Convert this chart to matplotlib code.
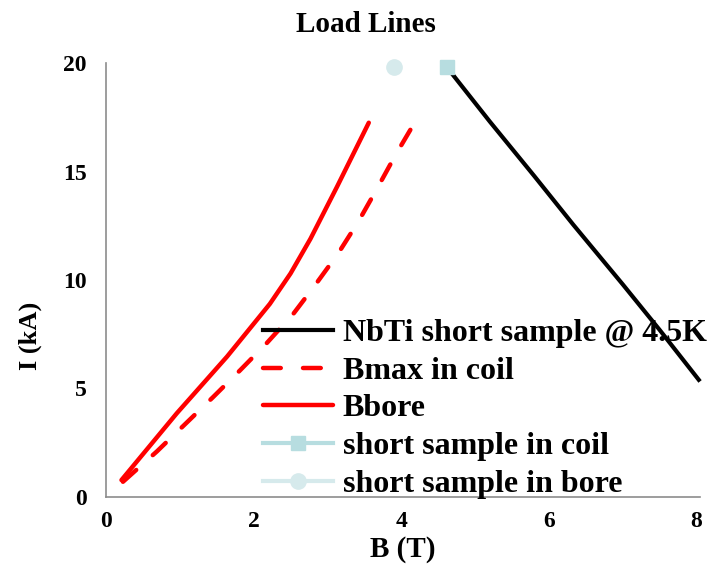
import matplotlib.pyplot as plt

plt.rcParams['font.family'] = ['Liberation Serif', 'DejaVu Serif']
plt.rcParams['font.weight'] = 'bold'

# NbTi short sample curve @ 4.5K
b_ss = [4.62, 5.2, 5.8, 6.33, 7.0, 7.5, 8.03]
i_ss = [19.8, 17.3, 14.8, 12.55, 9.8, 7.7, 5.4]

# load line, peak field in coil
b_max = [0.23, 0.69, 1.07, 1.45, 1.82, 2.18, 2.54, 2.83, 3.15, 3.42, 3.67,
         3.92, 4.18]
i_max = [0.7, 2.1, 3.35, 4.6, 5.85, 7.1, 8.45, 9.75, 11.25, 12.7, 14.2, 15.75,
         17.25]

# load line, bore field
b_bore = [0.21, 0.96, 1.64, 2.22, 2.5, 2.77, 3.13, 3.56]
i_bore = [0.78, 3.86, 6.47, 8.9, 10.3, 11.9, 14.3, 17.25]

# short sample points
b_coil_pt = [4.62]
i_coil_pt = [19.8]
b_bore_pt = [3.9]
i_bore_pt = [19.8]

fig = plt.figure(figsize=(7.16, 5.65), dpi=100)
ax = fig.add_axes([0.148, 0.1204, 0.83, 0.768])

ax.plot(b_ss, i_ss, color='black', lw=3, label='NbTi short sample @ 4.5K',
        clip_on=False)
ax.plot(b_max, i_max, color='red', lw=3.2, dashes=(4, 5),
        dash_capstyle='round', label='Bmax in coil')
ax.plot(b_bore, i_bore, color='red', lw=3.2, solid_capstyle='round',
        solid_joinstyle='round', label='Bbore')
ax.plot(b_coil_pt, i_coil_pt, '-s', color='#b7dde0', lw=3, ms=10,
        label='short sample in coil', clip_on=False)
ax.plot(b_bore_pt, i_bore_pt, '-o', color='#d6eaec', lw=3, ms=11,
        label='short sample in bore', clip_on=False)

ax.set_xlim(0, 8.05)
ax.set_ylim(0, 20)
ax.set_xticks([0, 2, 4, 6, 8])
ax.set_yticks([0, 5, 10, 15, 20])
ax.tick_params(length=0, labelsize=17)
ax.tick_params(axis='x', pad=10)
ax.tick_params(axis='y', pad=14)
for s in ['top', 'right']:
    ax.spines[s].set_visible(False)
for s in ['left', 'bottom']:
    ax.spines[s].set_color('#8c8c8c')
    ax.spines[s].set_linewidth(1.2)

ax.set_xlabel('B (T)', fontsize=21, fontweight='bold', labelpad=3)
ax.set_ylabel('I (kA)', fontsize=19, fontweight='bold')
ax.yaxis.set_label_coords(-0.108, 0.371)
fig.suptitle('Load Lines', x=0.511, y=0.98, fontsize=21, fontweight='bold')

leg = ax.legend(loc='upper left', bbox_to_anchor=(0.367, 0.436),
                bbox_transform=fig.transFigure, frameon=False, fontsize=23,
                handlelength=2.2, handletextpad=0.3, labelspacing=0.26,
                borderpad=0, borderaxespad=0, numpoints=1)

fig.savefig('out.png', dpi=100)
